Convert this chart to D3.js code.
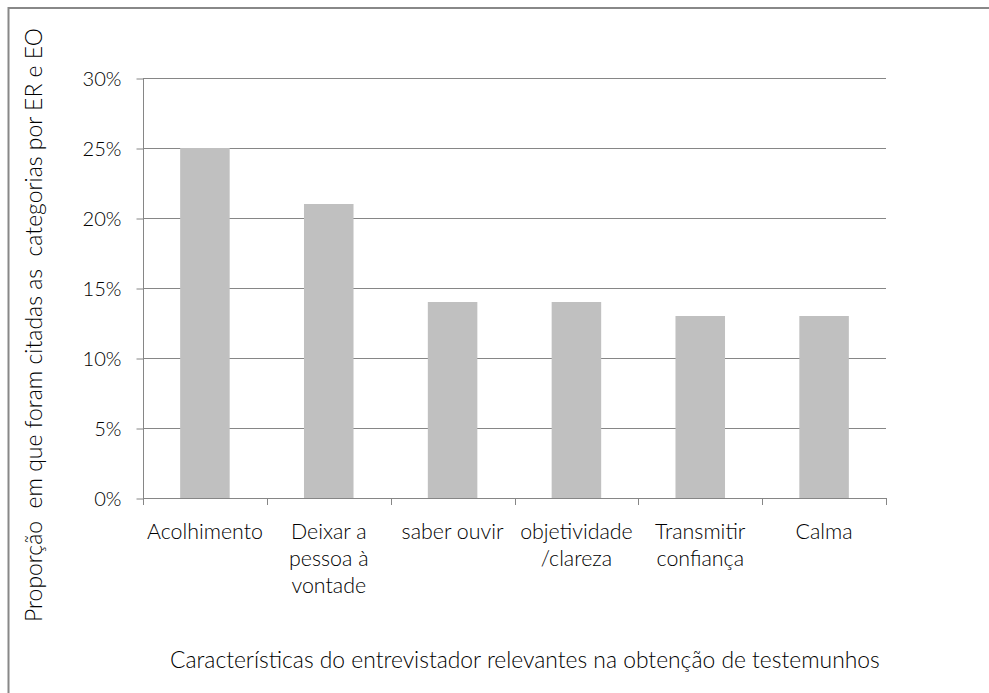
<!DOCTYPE html>
<html>
<head>
<meta charset="utf-8">
<script src="https://cdn.jsdelivr.net/npm/d3@7"></script>
<style>
  html, body { margin: 0; padding: 0; background: #fff; }
  svg { display: block; }
  text { font-family: Lato, "Open Sans", sans-serif; fill: #000; font-weight: 300; }
</style>
</head>
<body>
<svg id="chart" width="989" height="693"></svg>
<script>
const categories = [
  ["Acolhimento"],
  ["Deixar a", "pessoa à", "vontade"],
  ["saber ouvir"],
  ["objetividade", "/clareza"],
  ["Transmitir", "confiança"],
  ["Calma"]
];
const values = [0.25, 0.21, 0.14, 0.14, 0.13, 0.13];
const yTicks = [0, 0.05, 0.10, 0.15, 0.20, 0.25, 0.30];
const yTitle = "Proporção  em que foram citadas as  categorias por ER e EO";
const xTitle = "Características do entrevistador relevantes na obtenção de testemunhos";

(function () {
const svg = d3.select("#chart");
const W = 989, H = 693;
const mLeft = 143, mRight = 886, mTop = 78, mBottom = 498;
const gridColor = "#868686";

// size a text so that its rendered length matches a target length
function fitSize(sel, target) {
  sel.attr("font-size", 20);
  const len = sel.node().getComputedTextLength();
  const fs = 20 * target / len;
  sel.attr("font-size", fs);
  return fs;
}

// outer frame (cut off at right & bottom)
svg.append("path")
  .attr("d", `M8.5,${H + 5} L8.5,8 L${W + 5},8`)
  .attr("fill", "none").attr("stroke", "#888").attr("stroke-width", 2);

const keys = categories.map((c, i) => i);
const x = d3.scaleBand().domain(keys).range([mLeft, mRight])
  .paddingInner(0.6).paddingOuter(0.3);
const y = d3.scaleLinear().domain([0, 0.3]).range([mBottom, mTop]);

// gridlines
svg.append("g").selectAll("line").data(yTicks.filter(d => d > 0)).join("line")
  .attr("x1", mLeft).attr("x2", mRight)
  .attr("y1", d => Math.round(y(d)) + 0.5).attr("y2", d => Math.round(y(d)) + 0.5)
  .attr("stroke", gridColor).attr("stroke-width", 1);

// bars
svg.append("g").selectAll("rect").data(values).join("rect")
  .attr("x", (d, i) => x(i))
  .attr("width", x.bandwidth())
  .attr("y", d => y(d))
  .attr("height", d => y(0) - y(d))
  .attr("fill", "#c0c0c0");

// y axis
const yAxis = d3.axisLeft(y).tickValues(yTicks).tickFormat(d3.format(".0%"))
  .tickSize(7).tickPadding(15);
const gy = svg.append("g").attr("transform", `translate(${mLeft + 0.5},0.5)`).call(yAxis);
gy.select(".domain").attr("stroke", gridColor).attr("d", `M0,${mTop}V${mBottom}`);
gy.selectAll(".tick line").attr("stroke", gridColor);
const tickTexts = gy.selectAll(".tick text").attr("fill", "#000")
  .style("font-family", "Lato, sans-serif").style("font-weight", 300);
const lastTick = gy.selectAll(".tick text").filter(d => d === 0.3);
const tfs = fitSize(lastTick, 39);
tickTexts.attr("font-size", tfs).attr("dy", "0.34em");

// x axis line & ticks at band boundaries
const step = x.step();
const bounds = d3.range(categories.length + 1).map(i => mLeft + i * step);
svg.append("line").attr("x1", mLeft).attr("x2", mRight)
  .attr("y1", mBottom + 0.5).attr("y2", mBottom + 0.5).attr("stroke", gridColor);
svg.append("g").selectAll("line").data(bounds).join("line")
  .attr("x1", d => Math.round(d) + 0.5).attr("x2", d => Math.round(d) + 0.5)
  .attr("y1", mBottom).attr("y2", mBottom + 7).attr("stroke", gridColor);

// category labels
const lab = svg.append("g").selectAll("text").data(categories).join("text")
  .attr("text-anchor", "middle")
  .attr("transform", (d, i) => `translate(${x(i) + x.bandwidth() / 2},539)`);
lab.selectAll("tspan").data(d => d).join("tspan")
  .attr("x", 0).attr("y", (d, j) => j * 27).text(d => d);
const cfs = fitSize(lab.filter((d, i) => i === 0), 116);
lab.attr("font-size", cfs);

// axis titles
const yt = svg.append("text")
  .attr("transform", "translate(42,325) rotate(-90)")
  .attr("text-anchor", "middle")
  .attr("xml:space", "preserve").style("white-space", "pre")
  .text(yTitle);
fitSize(yt, 594);

const xt = svg.append("text")
  .attr("x", 170).attr("y", 668)
  .attr("text-anchor", "start")
  .text(xTitle);
fitSize(xt, 710);
})();
</script>
</body>
</html>
